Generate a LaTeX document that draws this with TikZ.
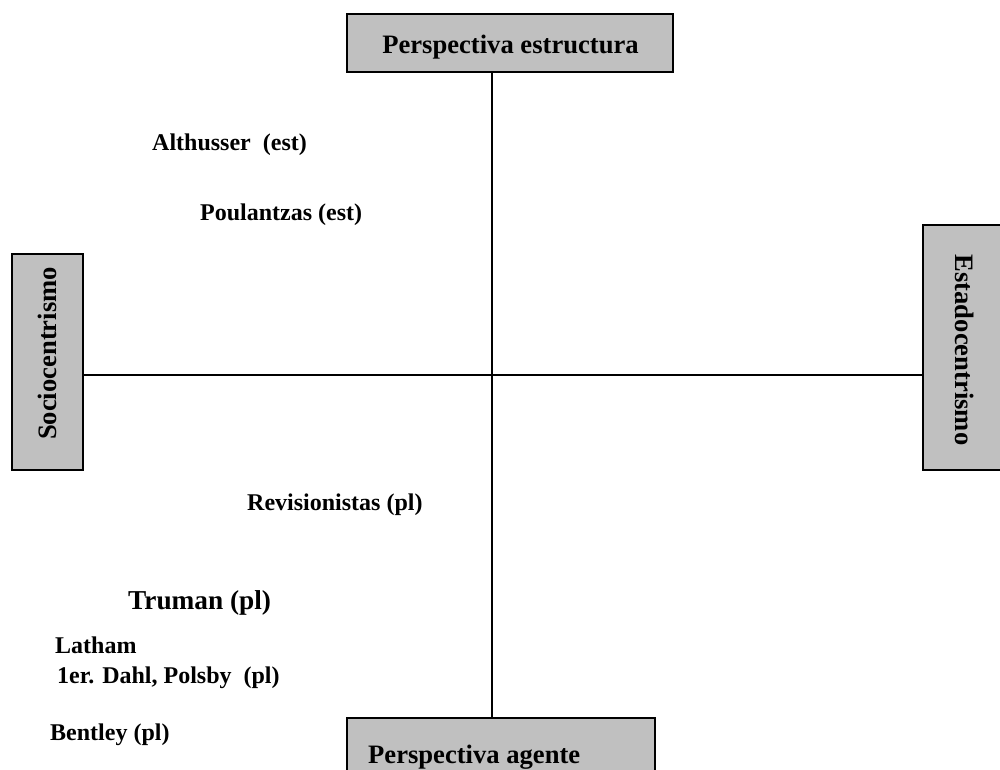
\documentclass[tikz,border=0pt]{standalone}
\usepackage{fontspec}
\setmainfont{Liberation Serif}
\begin{document}
\begin{tikzpicture}[x=1pt,y=-1pt,
  box/.style={draw=black, line width=1.8pt, fill=boxgray, inner sep=0pt},
  title/.style={font=\fontsize{26.6}{30}\selectfont\bfseries, inner sep=0pt},
  lab/.style={font=\fontsize{24}{28}\selectfont\bfseries, inner sep=0pt, anchor=base west},
  biglab/.style={font=\fontsize{27.3}{31}\selectfont\bfseries, inner sep=0pt, anchor=base west},
  axis/.style={draw=black, line width=1.8pt}]
\definecolor{boxgray}{RGB}{192,192,192}
\useasboundingbox (0,0) rectangle (1000,769);
% boxes
\node[box, minimum width=326pt, minimum height=58pt] (top) at (510,43) {};
\node[title, anchor=base] (toptxt) at (510.5,53) {Perspectiva estructura};
\node[box, minimum width=71pt, minimum height=216pt] (soc) at (47.5,362) {};
\node[title, rotate=90] (soctxt) at (47,353.5) {Sociocentrismo};
\node[box, minimum width=82pt, minimum height=245pt] (est) at (964,347.5) {};
\node[title, rotate=-90] (esttxt) at (965,350) {Estadocentrismo};
\node[box, minimum width=308pt, minimum height=60pt] (bot) at (501,748) {};
\node[title, anchor=base west] (bottxt) at (368,763) {Perspectiva agente};
% axes
\coordinate (v) at (492,0);
\coordinate (h) at (0,375);
\draw[axis] (top.south -| v) -- (bot.north -| v);
\draw[axis] (soc.east |- h) -- (est.west |- h);
% labels
\node[lab] (alt) at (152,150) {Althusser\ \ (est)};
\node[lab] (pou) at (200,220) {Poulantzas (est)};
\node[lab] (rev) at (247,510) {Revisionistas (pl)};
\node[biglab] (tru) at (128,609) {Truman (pl)};
\node[lab] (lat) at (55,653) {Latham};
\node[lab] (dah) at (57,683) {1er. Dahl, Polsby\ \ (pl)};
\node[lab] (ben) at (50,740) {Bentley (pl)};
\end{tikzpicture}
\end{document}
